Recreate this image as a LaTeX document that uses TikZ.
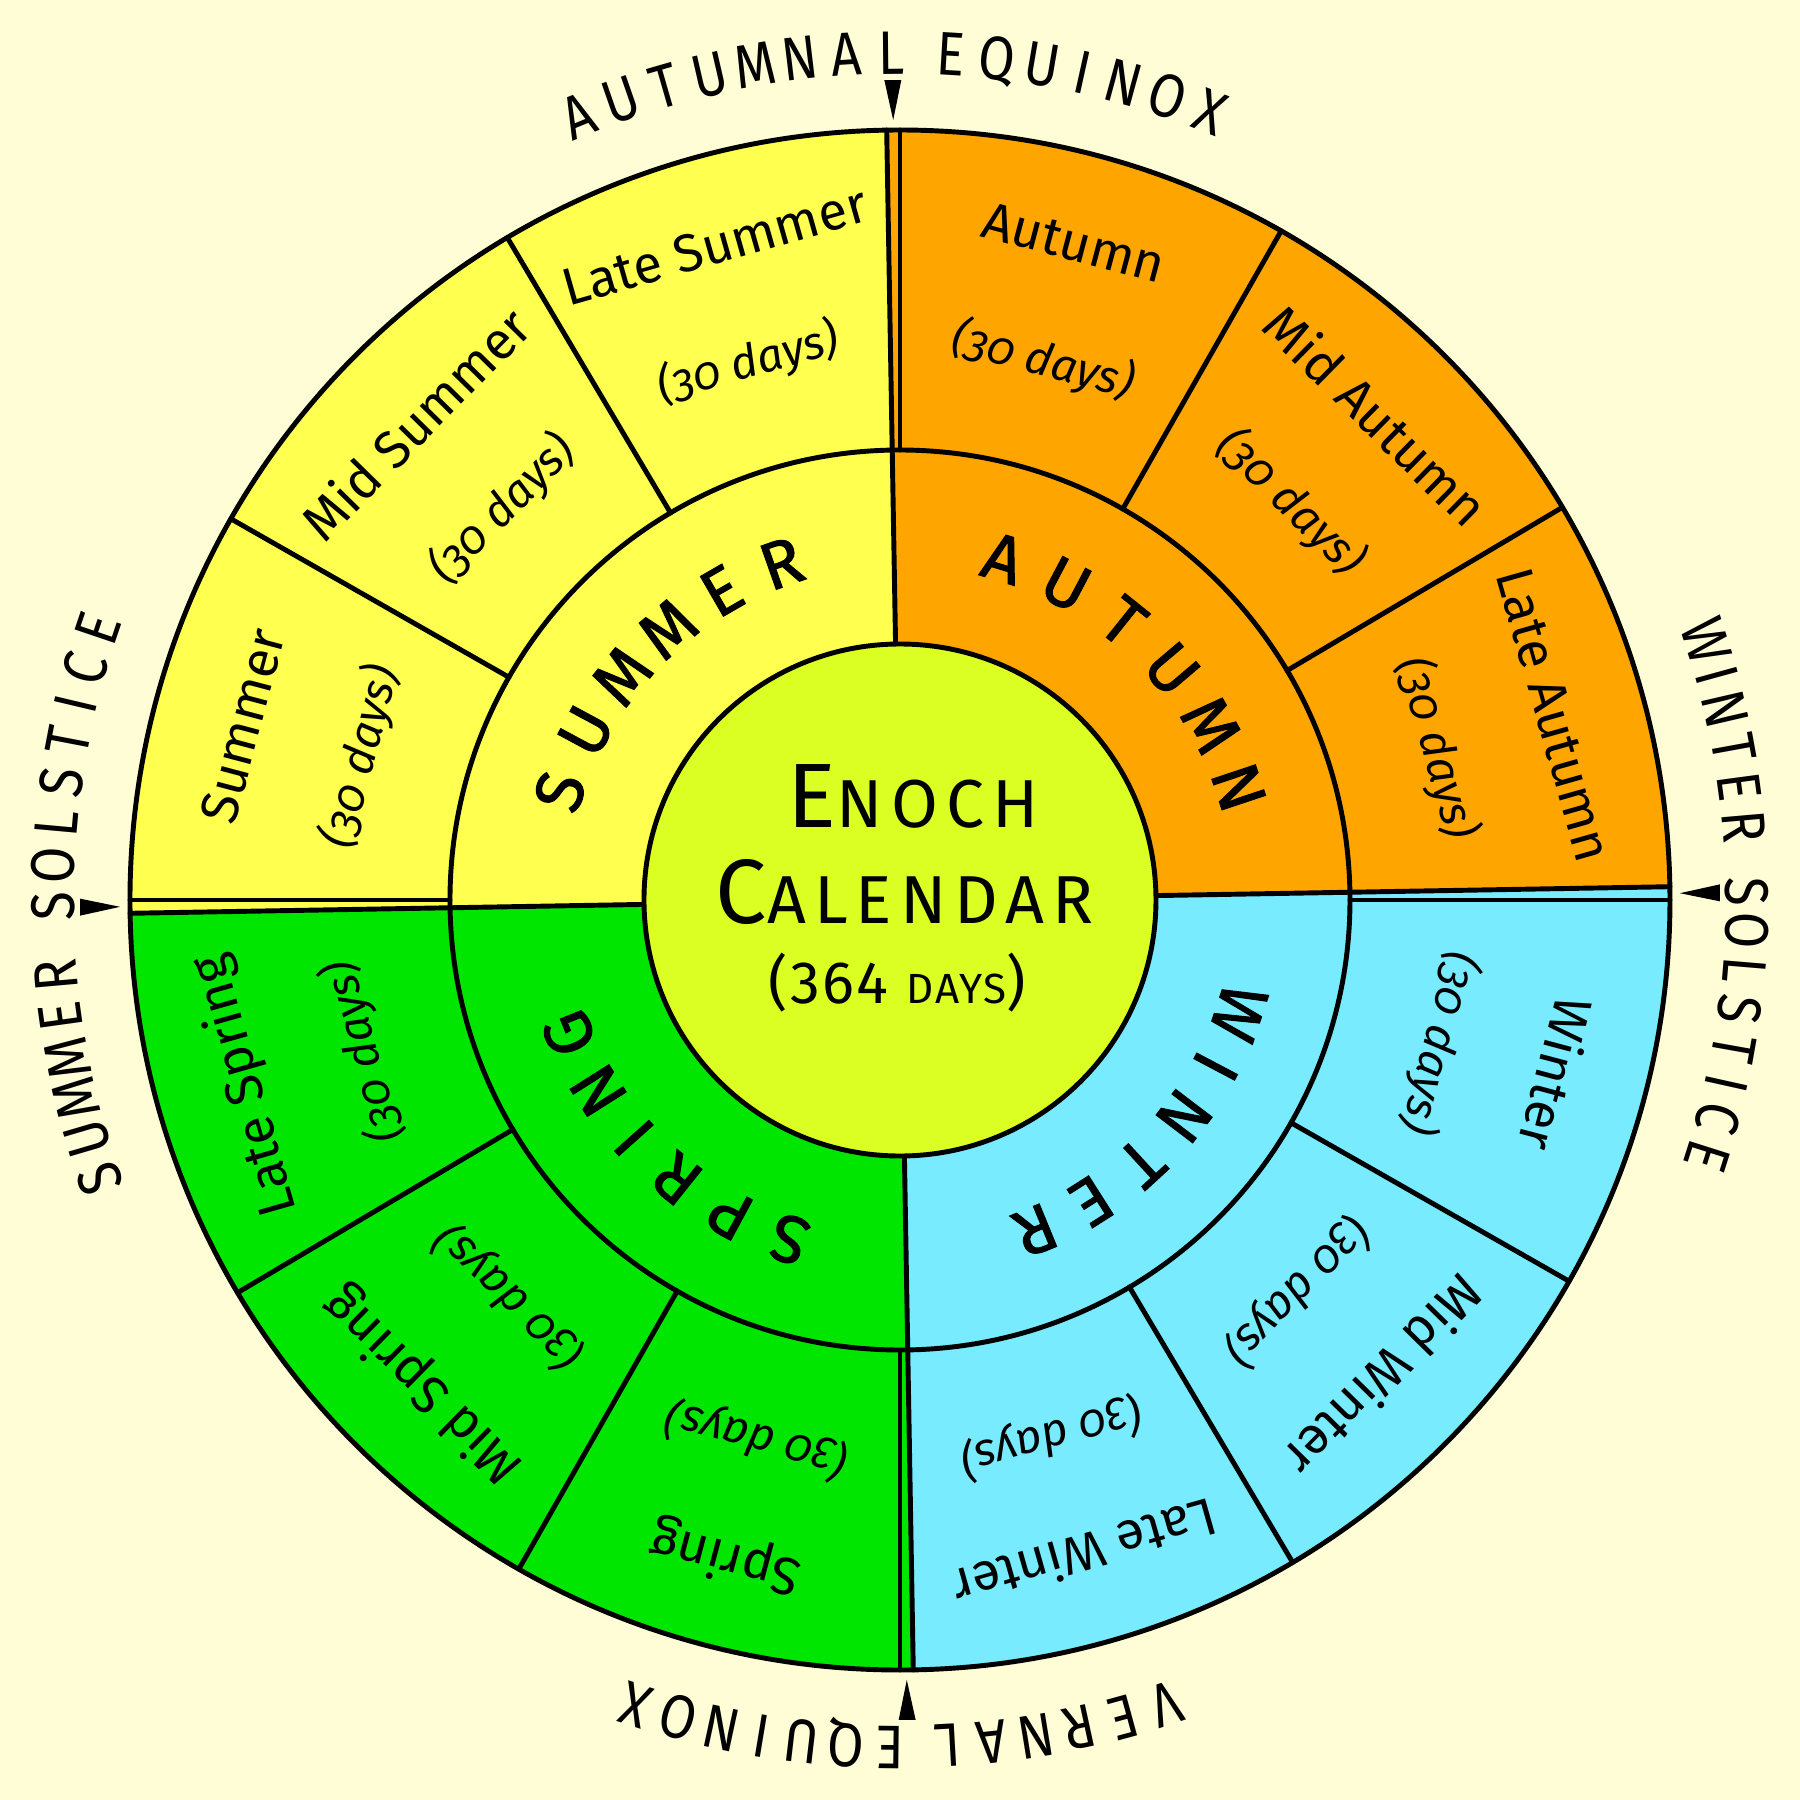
\documentclass[tikz,border=0pt]{standalone}
\usepackage{fontspec}
\setmainfont{Fira Sans}
\newfontfamily\labfam{Fira Sans}
\newfontfamily\outfam[FakeStretch=0.86]{Fira Sans}
\newfontfamily\daysfam[Numbers=OldStyle]{Fira Sans}
\newfontfamily\midfam[FakeBold=1.5]{Fira Sans}
\newfontfamily\cfam[LetterSpace=12]{Fira Sans}
\newfontfamily\cdfam[LetterSpace=4]{Fira Sans}
\definecolor{bgc}{RGB}{255,253,214}
\definecolor{summerc}{RGB}{255,255,80}
\definecolor{autumnc}{RGB}{255,165,0}
\definecolor{winterc}{RGB}{120,235,255}
\definecolor{springc}{RGB}{0,230,0}
\definecolor{centerc}{RGB}{220,255,35}
\newcommand\outerfont{\outfam\fontsize{17.5}{19}\selectfont}
\newcommand\midfont{\midfam\fontsize{19}{21}\selectfont}
\newcommand\narI{\kern-1.2pt I\kern-1.2pt}
\newcommand\wgap{\kern-9pt}
\newcommand\sgap{\kern-4pt}
\newlength\arcw
\newcommand\arclabel[6]{%
  \gdef\arcsum{0}\gdef\arcn{0}%
  \foreach \ch [count=\i] in {#6}{%
    \settowidth\arcw{#2\ch}%
    \pgfmathsetmacro\arctmp{\arcsum+\arcw}\global\let\arcsum\arctmp
    \pgfmathsetmacro\arctmp{\arcw}\global\let\arclast\arctmp
    \ifnum\i=1 \global\let\arcfirst\arctmp\fi
    \xdef\arcn{\i}%
  }%
  \pgfmathsetmacro\arcR{#5*28.45274}%
  \pgfmathsetmacro\arct{((#3-(#4))*pi/180*\arcR-(\arcsum-0.5*\arcfirst-0.5*\arclast))/(\arcn-1)}%
  \gdef\arccum{0}%
  \foreach \ch [count=\i] in {#6}{%
    \settowidth\arcw{#2\ch}%
    \pgfmathsetmacro\arcang{#3-(\arccum+0.5*\arcw-0.5*\arcfirst)/\arcR*180/pi}%
    \node[name=#1\i, rotate=\arcang-90, anchor=base, inner sep=0pt, outer sep=0pt] at (\arcang:#5) {#2\ch};
    \pgfmathsetmacro\arctmp{\arccum+\arcw+\arct}\global\let\arccum\arctmp
  }%
}
\tikzset{
  ln/.style={line width=1.4pt, line cap=round},
  monthname/.style={font=\labfam\fontsize{15}{17}\selectfont, inner sep=0pt},
  monthdays/.style={font=\daysfam\itshape\fontsize{13}{15}\selectfont, inner sep=0pt},
  tip/.style={fill=black}
}
\begin{document}
\begin{tikzpicture}
\useasboundingbox (-9,-9) rectangle (9,9);
\fill[bgc] (-9,-9) rectangle (9,9);
% season fills
\fill[autumnc] (0,0) -- (0.989:7.7) arc[start angle=0.989, end angle=90.989, radius=7.7] -- cycle;
\fill[summerc] (0,0) -- (90.989:7.7) arc[start angle=90.989, end angle=180.989, radius=7.7] -- cycle;
\fill[springc] (0,0) -- (180.989:7.7) arc[start angle=180.989, end angle=270.989, radius=7.7] -- cycle;
\fill[winterc] (0,0) -- (270.989:7.7) arc[start angle=270.989, end angle=360.989, radius=7.7] -- cycle;
% lines
\foreach \s in {90,0,270,180}{
  \draw[ln] (\s+0.989:2.56) -- (\s+0.989:7.70);
  \draw[ln] (\s:4.50) -- (\s:7.70);
  \draw[ln] (\s-29.670:4.50) -- (\s-29.670:7.70);
  \draw[ln] (\s-59.341:4.50) -- (\s-59.341:7.70);
}
\draw[ln] (0,0) circle[radius=7.70];
\draw[ln] (0,0) circle[radius=4.50];
\node[circle, fill=centerc, draw, line width=1.4pt, minimum size=5.12cm, inner sep=0pt] (hub) at (0,0) {};
% arrows
\foreach \s in {90.5,0.5,270.5,180.5}{
  \fill[tip] (\s:7.80) -- (\s+0.594:8.20) -- (\s-0.594:8.20) -- cycle;
}
% centre text
\node[anchor=base, inner sep=0pt] (enoch) at (0.13,0.73) {\cfam{\fontsize{26}{30}\selectfont E}{\fontsize{19.3}{22}\selectfont NOCH}};
\node[anchor=base, inner sep=0pt] (calendar) at (0.05,-0.23) {\cfam{\fontsize{26}{30}\selectfont C}{\fontsize{19.3}{22}\selectfont ALENDAR}};
\node[anchor=base, inner sep=0pt] (days) at (-0.03,-1.03) {\cdfam\fontsize{17}{20}\selectfont (364 {\fontsize{12}{14}\selectfont DAYS})};
% month labels
\foreach \a/\t [count=\i] in {75.165/Autumn, 45.495/Mid Autumn, 15.824/Late Autumn, -14.835/Winter, -44.505/Mid Winter, -74.176/Late Winter, 255.165/Spring, 225.495/Mid Spring, 195.824/Late Spring, 165.165/Summer, 135.495/Mid Summer, 105.824/Late Summer}{
  \node[monthname, rotate=\a-90] (m\i) at (\a:6.80) {\t};
  \node[monthdays, rotate=\a-90] (d\i) at (\a:5.58) {(30 days)};
}
% season labels
\arclabel{su}{\midfont}{162.3}{109.4}{3.34}{S,U,M,M,E,R}
\arclabel{au}{\midfont}{73.2}{18.4}{3.34}{A,U,T,U,M,N}
\arclabel{wi}{\midfont}{-18.4}{-67.7}{3.34}{W,\narI,N,T,E,R}
\arclabel{sp}{\midfont}{251.9}{202.0}{3.34}{S,P,R,\narI,N,G}
% outer labels
\arclabel{ae}{\outerfont}{112.3}{68.5}{8.26}{A,U,T,U,M,N,A,L,\wgap,E,Q,U,\narI,N,O,X}
\arclabel{ws}{\outerfont}{17.8}{-17.6}{8.26}{W,\narI,N,T,E,R,\sgap,S,O,L,S,T,\narI,C,E}
\arclabel{ve}{\outerfont}{288.3}{251.8}{8.26}{V,E,R,N,A,L,\wgap,E,Q,U,\narI,N,O,X}
\arclabel{ss}{\outerfont}{199.2}{161.3}{8.26}{S,U,M,M,E,R,\sgap,S,O,L,S,T,\narI,C,E}
\end{tikzpicture}
\end{document}
